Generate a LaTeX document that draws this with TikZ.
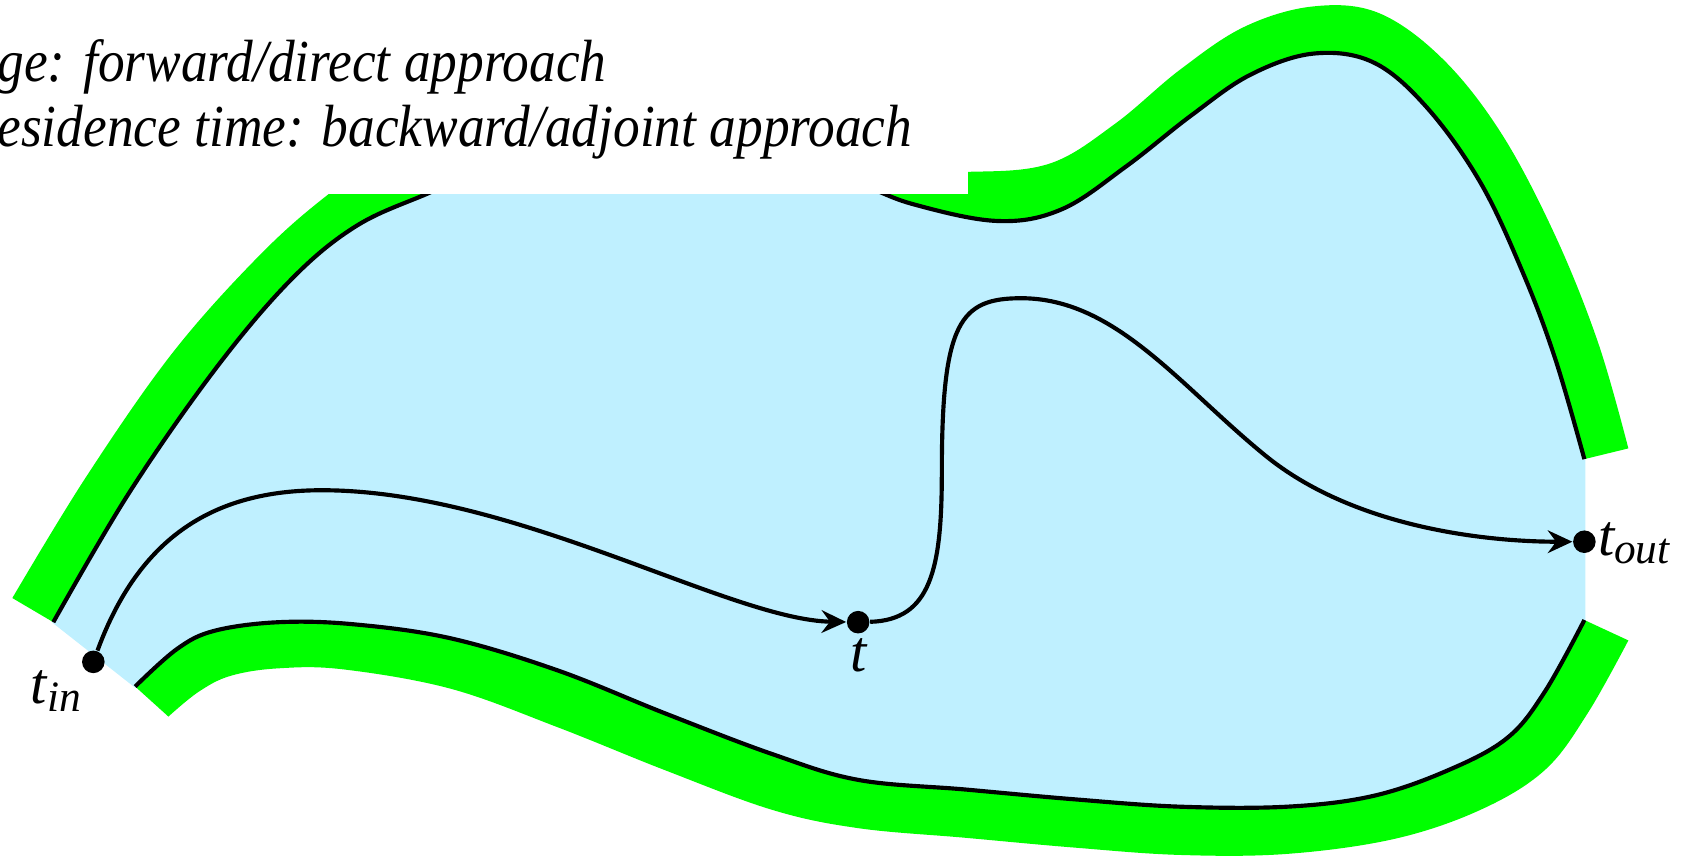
\documentclass[tikz,border=0pt]{standalone}
\usepackage{fontspec}
\setmainfont{Liberation Serif}[ItalicFont={Liberation Serif Italic}]
\usetikzlibrary{arrows.meta}
\definecolor{domblue}{RGB}{191,240,255}
\definecolor{bandgreen}{RGB}{0,255,0}
\begin{document}
\begin{tikzpicture}[x=0.01cm,y=-0.01cm,
  bound/.style={line width=1.1pt, black},
  traj/.style={line width=1.1pt, -{Stealth[length=6.5pt,width=6pt,inset=2.2pt]}},
  dot/.style={circle, fill=black, inner sep=0pt, minimum size=0.21cm},
  lbl/.style={font=\fontsize{15.5}{18}\selectfont\itshape, inner sep=0pt},
  titletxt/.style={font=\fontsize{15.8}{19}\selectfont\itshape, inner sep=0pt}]
\useasboundingbox (0,0) rectangle (1568,799);
\clip (0,0) rectangle (1568,799);
% green bands (outer shape)
\fill[bandgreen] (11.5,557.5) -- plot[smooth, tension=0.6] coordinates {(11.5,557.5) (80,445) (160,330) (240,240) (305,182) (380,130) (500,110) (700,125) (840,155) (910,160) (980,152) (1040,115) (1100,65) (1160,25) (1224,6) (1285,12) (1345,55) (1400,125) (1450,220) (1490,320) (1518,418)}
  -- (1477,428) -- (1477,578) -- (1518,597)
  -- plot[smooth, tension=0.6] coordinates {(1518,597) (1480,665) (1440,718) (1380,755) (1300,782) (1200,796) (1100,797) (1000,790) (900,781) (800,772) (720,755) (620,718) (520,678) (420,642) (320,624) (260,623) (215,630) (185,645) (157,668)}
  -- (126,640) -- (49.7,580) -- cycle;
% domain
\fill[domblue, draw=domblue, line width=0.5pt] plot[smooth, tension=0.6] coordinates {(49.7,580) (120,460) (200,345) (270,262) (330,212) (395,182) (480,150) (650,140) (780,165) (850,190) (930,206) (990,195) (1050,155) (1110,108) (1165,70) (1224,50) (1280,58) (1330,100) (1380,170) (1420,255) (1450,335) (1477,428)}
  -- (1477,578)
  -- plot[smooth, tension=0.6] coordinates {(1477,578) (1440,645) (1405,688) (1350,718) (1280,742) (1200,752) (1100,752) (1000,745) (900,736) (800,727) (720,703) (620,665) (520,625) (420,595) (330,582) (260,580) (200,588) (165,605) (126,640)}
  -- cycle;
% boundary lines
\draw[bound] plot[smooth, tension=0.6] coordinates {(49.7,580) (120,460) (200,345) (270,262) (330,212) (395,182) (480,150) (650,140) (780,165) (850,190) (930,206) (990,195) (1050,155) (1110,108) (1165,70) (1224,50) (1280,58) (1330,100) (1380,170) (1420,255) (1450,335) (1477,428)};
\draw[bound] plot[smooth, tension=0.6] coordinates {(126,640) (165,605) (200,588) (260,580) (330,582) (420,595) (520,625) (620,665) (720,703) (800,727) (900,736) (1000,745) (1100,752) (1200,752) (1280,742) (1350,718) (1405,688) (1440,645) (1477,578)};
% text box
\fill[white] (0,0) rectangle (902,181);
\node[titletxt, anchor=base west] (line1) at (-3,76) {\scalebox{0.895}[1]{ge: forward/direct approach}};
\node[titletxt, anchor=base west] (line2) at (-3,137) {\scalebox{0.895}[1]{esidence time: backward/adjoint approach}};
% points
\node[dot] (tin) at (87,617) {};
\node[dot] (t) at (800,580) {};
\node[dot] (tout) at (1477,505) {};
% trajectory
\draw[traj] (tin) .. controls (130,500) and (200,457) .. (300,457)
  .. controls (480,457) and (680,578) .. (t);
\draw[traj] (t) .. controls (868,578) and (878,530) .. (878,440)
  .. controls (878,300) and (895,278) .. (952,278)
  .. controls (1040,278) and (1100,360) .. (1180,425)
  .. controls (1260,490) and (1380,505) .. (tout);
% labels
\node[lbl, anchor=base west] (tinlbl) at (28,656) {t\raisebox{-0.3ex}{\fontsize{11.5}{12}\selectfont in}};
\node[lbl, anchor=base] (tlbl) at (800,626) {t};
\node[lbl, anchor=base west] (toutlbl) at (1489,518) {t\raisebox{-0.3ex}{\fontsize{11.5}{12}\selectfont out}};
\end{tikzpicture}
\end{document}
